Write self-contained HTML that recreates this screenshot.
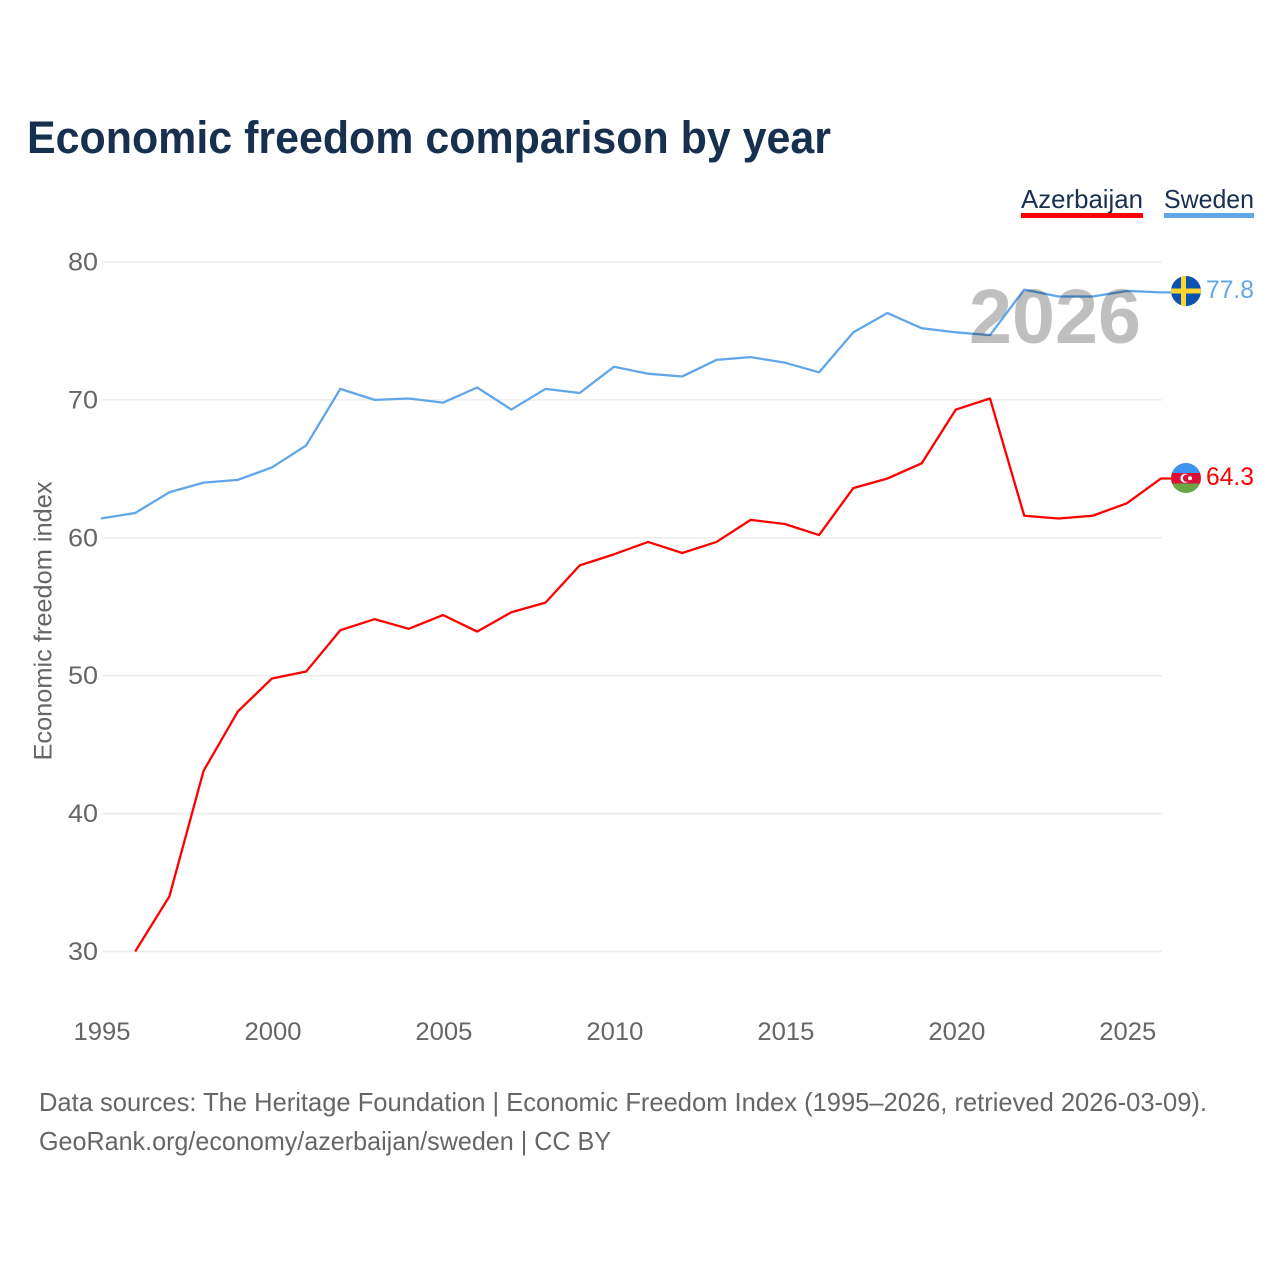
<!DOCTYPE html>
<html lang="en">
<head>
<meta charset="utf-8">
<title>Economic freedom comparison by year</title>
<style>
html,body{margin:0;padding:0;background:#fff;width:1280px;height:1280px;overflow:hidden}
svg{display:block}
text{font-family:"Liberation Sans",sans-serif}
</style>
</head>
<body>
<svg id="chart" xmlns="http://www.w3.org/2000/svg" width="1280" height="1280" viewBox="0 0 1280 1280">
  <rect width="1280" height="1280" fill="#fff"/>
  <text x="27" y="153" font-size="45" font-weight="700" fill="#18304f" textLength="804" lengthAdjust="spacingAndGlyphs">Economic freedom comparison by year</text>

  <g>
    <text x="1021" y="208" font-size="26" fill="#18304f" textLength="122" lengthAdjust="spacingAndGlyphs">Azerbaijan</text>
    <rect x="1021" y="213" width="122" height="5" fill="#ff0000"/>
  </g>
  <g>
    <text x="1164" y="208" font-size="26" fill="#18304f" textLength="90" lengthAdjust="spacingAndGlyphs">Sweden</text>
    <rect x="1164" y="213" width="90" height="5" fill="#62a6ea"/>
  </g>

  <g id="grid"></g>
  <g id="yticks"></g>
  <g id="xticks"></g>
  <text transform="translate(51.5 621) rotate(-90)" text-anchor="middle" font-size="25" fill="#666" textLength="279" lengthAdjust="spacingAndGlyphs">Economic freedom index</text>

  <g id="series"></g>

  <text x="969" y="343" font-size="77" font-weight="700" fill="#000" fill-opacity="0.25" textLength="172" lengthAdjust="spacingAndGlyphs">2026</text>

  <defs>
    <clipPath id="clip-se"><circle cx="1186" cy="291" r="15"/></clipPath>
    <clipPath id="clip-az"><circle cx="1186" cy="478" r="15"/></clipPath>
  </defs>
  <g clip-path="url(#clip-se)">
    <rect x="1171" y="276" width="30" height="30" fill="#0b53b0"/>
    <rect x="1181" y="276" width="5" height="30" fill="#fcd52e"/>
    <rect x="1171" y="288.5" width="30" height="5" fill="#fcd52e"/>
  </g>
  <g clip-path="url(#clip-az)">
    <rect x="1171" y="463" width="30" height="10" fill="#3f93ee"/>
    <rect x="1171" y="473" width="30" height="10.5" fill="#dc1036"/>
    <rect x="1171" y="483.5" width="30" height="9.5" fill="#6ea544"/>
    <circle cx="1185" cy="478.2" r="4.6" fill="#fff"/>
    <circle cx="1186.6" cy="478.2" r="3.7" fill="#dc1036"/>
    <circle cx="1190" cy="478.2" r="2" fill="#fff"/>
  </g>
  <text x="1206" y="298" font-size="25" fill="#62a6ea" textLength="48" lengthAdjust="spacingAndGlyphs">77.8</text>
  <text x="1206" y="485" font-size="25" fill="#ff0000" textLength="48" lengthAdjust="spacingAndGlyphs">64.3</text>

  <text x="39" y="1111" font-size="26" fill="#666" textLength="1168" lengthAdjust="spacingAndGlyphs">Data sources: The Heritage Foundation | Economic Freedom Index (1995–2026, retrieved 2026-03-09).</text>
  <text x="39" y="1150" font-size="26" fill="#666" textLength="572" lengthAdjust="spacingAndGlyphs">GeoRank.org/economy/azerbaijan/sweden | CC BY</text>
</svg>
<script>
var years = [1995,1996,1997,1998,1999,2000,2001,2002,2003,2004,2005,2006,2007,2008,2009,2010,2011,2012,2013,2014,2015,2016,2017,2018,2019,2020,2021,2022,2023,2024,2025,2026];
var swedenValues = [61.4,61.8,63.3,64.0,64.2,65.1,66.7,70.8,70.0,70.1,69.8,70.9,69.3,70.8,70.5,72.4,71.9,71.7,72.9,73.1,72.7,72.0,74.9,76.3,75.2,74.9,74.7,78.0,77.5,77.5,77.9,77.8];
var azerbaijanValues = [null,30.0,34.0,43.1,47.4,49.8,50.3,53.3,54.1,53.4,54.4,53.2,54.6,55.3,58.0,58.8,59.7,58.9,59.7,61.3,61.0,60.2,63.6,64.3,65.4,69.3,70.1,61.6,61.4,61.6,62.5,64.3];
var yTickValues = [30,40,50,60,70,80];
var xTickValues = [1995,2000,2005,2010,2015,2020,2025];

var NS = 'http://www.w3.org/2000/svg';
function xScale(year){ return 101 + (year - 1995) * (1161 - 101) / 31; }
function yScale(value){ return 951.5 - (value - 30) * (951.5 - 262) / 50; }

var grid = document.getElementById('grid');
var yticks = document.getElementById('yticks');
var xticks = document.getElementById('xticks');
var seriesGroup = document.getElementById('series');

yTickValues.forEach(function(v){
  var line = document.createElementNS(NS,'line');
  
  
  line.setAttribute('x1', 102);
  line.setAttribute('x2', 1162);
  line.setAttribute('y1', yScale(v));
  line.setAttribute('y2', yScale(v));
  line.setAttribute('stroke', '#ededed');
  line.setAttribute('stroke-width', 1.5);
  grid.appendChild(line);

  var t = document.createElementNS(NS,'text');
  
  
  t.setAttribute('x', 68);
  t.setAttribute('y', yScale(v) + 8.5);
  t.setAttribute('font-size', 25);
  t.setAttribute('fill', '#666');
  t.setAttribute('textLength', 30);
  t.setAttribute('lengthAdjust', 'spacingAndGlyphs');
  t.textContent = v;
  yticks.appendChild(t);
});

xTickValues.forEach(function(y){
  var t = document.createElementNS(NS,'text');
  
  
  t.setAttribute('x', xScale(y) + 1);
  t.setAttribute('y', 1040);
  t.setAttribute('text-anchor', 'middle');
  t.setAttribute('font-size', 25);
  t.setAttribute('fill', '#666');
  t.setAttribute('textLength', 57);
  t.setAttribute('lengthAdjust', 'spacingAndGlyphs');
  t.textContent = y;
  xticks.appendChild(t);
});

function linePath(values){
  var d = '';
  values.forEach(function(v,i){
    if (v === null) return;
    d += (d ? 'L' : 'M') + xScale(years[i]).toFixed(2) + ' ' + yScale(v).toFixed(2);
  });
  var last = values[values.length - 1];
  d += 'L1171 ' + yScale(last).toFixed(2);
  return d;
}

var swedenLine = document.createElementNS(NS,'path');


swedenLine.setAttribute('d', linePath(swedenValues));
swedenLine.setAttribute('fill', 'none');
swedenLine.setAttribute('stroke', '#62a6ea');
swedenLine.setAttribute('stroke-width', 2.3);
swedenLine.setAttribute('stroke-linejoin', 'round');
seriesGroup.appendChild(swedenLine);

var azerbaijanLine = document.createElementNS(NS,'path');


azerbaijanLine.setAttribute('d', linePath(azerbaijanValues));
azerbaijanLine.setAttribute('fill', 'none');
azerbaijanLine.setAttribute('stroke', '#ff0000');
azerbaijanLine.setAttribute('stroke-width', 2.3);
azerbaijanLine.setAttribute('stroke-linejoin', 'round');
seriesGroup.appendChild(azerbaijanLine);
</script>
</body>
</html>
